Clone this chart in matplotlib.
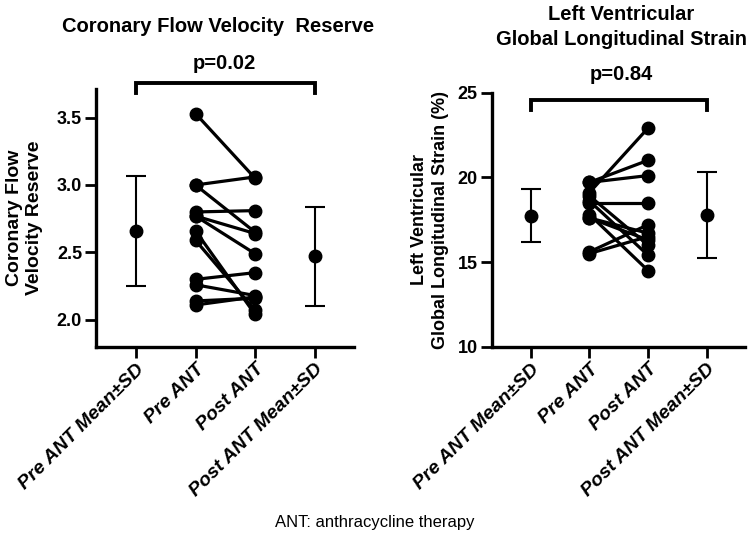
import matplotlib
matplotlib.use('Agg')
import matplotlib.pyplot as plt

# categories on the x axis
cats = ['Pre ANT Mean±SD', 'Pre ANT', 'Post ANT', 'Post ANT Mean±SD']

# coronary flow velocity reserve, paired values (pre -> post)
cfvr_pre = [3.53, 3.00, 3.00, 2.80, 2.77, 2.77, 2.66, 2.59, 2.30, 2.26, 2.14, 2.11]
cfvr_post = [3.05, 3.06, 2.65, 2.81, 2.64, 2.49, 2.04, 2.07, 2.35, 2.18, 2.16, 2.17]
cfvr_mean = [2.66, 2.47]
cfvr_sd = [0.41, 0.37]

# LV global longitudinal strain, paired values (pre -> post)
gls_pre = [19.7, 19.7, 19.1, 18.5, 18.9, 18.6, 17.8, 17.6, 17.6, 15.6, 15.5]
gls_post = [21.0, 20.1, 22.9, 18.5, 16.0, 15.4, 14.5, 16.3, 16.7, 17.2, 16.5]
gls_mean = [17.74, 17.78]
gls_sd = [1.56, 2.53]

narrow = ['Liberation Sans Narrow', 'Liberation Sans', 'DejaVu Sans']
plt.rcParams['font.family'] = ['Liberation Sans', 'DejaVu Sans']

fig = plt.figure(figsize=(7.5, 5.41), dpi=100)
ax1 = fig.add_axes([0.128, 0.359, 0.344, 0.476])
ax2 = fig.add_axes([0.6556, 0.359, 0.338, 0.4700])


def draw_panel(ax, pre, post, mean, sd, ylim, yticks, ylabel, ylab_size, br_y, br_leg):
    for a, b in zip(pre, post):
        ax.plot([1, 2], [a, b], color='black', lw=2.3, marker='o', ms=9,
                mfc='black', mec='black', solid_capstyle='round')
    ax.errorbar([0, 3], mean, yerr=sd, fmt='o', color='black', ms=9,
                elinewidth=1.5, capsize=7, capthick=1.5)
    ax.set_xlim(-0.67, 3.66)
    ax.set_ylim(*ylim)
    ax.set_yticks(yticks)
    ax.set_xticks(range(4))
    ax.set_xticklabels(cats, rotation=45, ha='right', rotation_mode='anchor',
                       fontsize=14, fontweight='bold', style='italic')
    for lab in ax.get_yticklabels():
        lab.set_fontsize(13)
        lab.set_fontweight('bold')
    ax.set_ylabel(ylabel, fontsize=ylab_size, fontweight='bold', linespacing=1.25)
    for s in ['top', 'right']:
        ax.spines[s].set_visible(False)
    for s in ['left', 'bottom']:
        ax.spines[s].set_linewidth(2.4)
    ax.tick_params(width=2.0, length=8, pad=2)
    # significance bracket
    ax.plot([0, 0, 3, 3], [br_leg, br_y, br_y, br_leg], color='black', lw=2.8,
            clip_on=False, solid_joinstyle='miter')
    return ax


draw_panel(ax1, cfvr_pre, cfvr_post, cfvr_mean, cfvr_sd, (1.8, 3.71),
           [2.0, 2.5, 3.0, 3.5], 'Coronary Flow\nVelocity Reserve', 14,
           3.757, 3.68)
ax1.set_yticklabels(['2.0', '2.5', '3.0', '3.5'], fontsize=13, fontweight='bold')
draw_panel(ax2, gls_pre, gls_post, gls_mean, gls_sd, (10, 25),
           [10, 15, 20, 25], 'Left Ventricular\nGlobal Longitudinal Strain (%)', 13,
           24.56, 23.95)

ax1.yaxis.set_label_coords(-0.205, 0.5)
ax2.yaxis.set_label_coords(-0.17, 0.5)

fig.text(218 / 750, 1 - 27 / 541, 'Coronary Flow Velocity  Reserve', ha='center',
         va='center', fontsize=14.5, fontweight='bold', family=narrow)
fig.text(621 / 750, 1 - 27 / 541, 'Left Ventricular\nGlobal Longitudinal Strain',
         ha='center', va='center', fontsize=14.5, fontweight='bold', family=narrow,
         linespacing=1.35)
fig.text(224 / 750, 1 - 64 / 541, 'p=0.02', ha='center', va='center',
         fontsize=14.5, fontweight='bold', family=narrow)
fig.text(621 / 750, 1 - 75 / 541, 'p=0.84', ha='center', va='center',
         fontsize=14.5, fontweight='bold', family=narrow)
fig.text(375 / 750, 1 - 523 / 541, 'ANT: anthracycline therapy', ha='center',
         va='center', fontsize=12, family=narrow)

fig.savefig('out.png', dpi=100)
